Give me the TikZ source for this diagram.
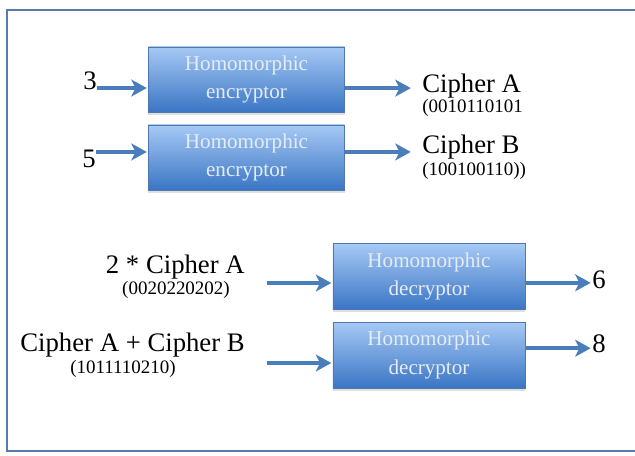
\documentclass[tikz,border=0pt]{standalone}
\usepackage{fontspec}
\setmainfont{Liberation Serif}
\usetikzlibrary{positioning,arrows.meta,shadows}
\definecolor{boxtop}{HTML}{A6C9F5}
\definecolor{boxbot}{HTML}{3A75C4}
\definecolor{flowblue}{HTML}{4A7EBB}
\definecolor{framebl}{HTML}{5A7BAA}
\definecolor{boxtext}{HTML}{E6ECF4}
\tikzset{
  hebox/.style={rectangle,draw=boxbot!70!gray,thin,top color=boxtop,bottom color=boxbot,
    minimum width=4.9cm,minimum height=1.625cm,align=center,text=boxtext,
    font=\fontsize{15}{20}\selectfont,
    drop shadow={opacity=0.25,shadow xshift=0pt,shadow yshift=-2pt}},
  bigtext/.style={inner sep=0pt,font=\fontsize{19}{22}\selectfont},
  bittext/.style={inner sep=0pt,font=\fontsize{13.5}{16}\selectfont},
  numtext/.style={inner sep=0pt,font=\fontsize{19}{20}\selectfont},
  every edge/.style={draw=flowblue,line width=3pt,-{Stealth[length=11pt,width=12pt,inset=3pt]},shorten >=1pt},
}
\begin{document}
\begin{tikzpicture}[x=0.025cm,y=-0.025cm]
\useasboundingbox (0,0) rectangle (635,455);

% frame
\draw[framebl,line width=1.5pt] (635,10) -- (7,10) -- (7,451) -- (635,451);

% encryptors
\node[hebox] (enc1) at (246.5,79.5) {Homomorphic\\encryptor};
\node[hebox] (enc2) at (246.5,157.5) {Homomorphic\\encryptor};

\node[numtext] (three) at (90,81) {3};
\node[numtext] (five) at (89,159) {5};

\node[bigtext,anchor=west] (ca) at (422,86) {Cipher A};
\node[bittext,anchor=west] (cabits) at (422,108) {(0010110101};
\node[bigtext,anchor=west] (cb) at (422,147) {Cipher B};
\node[bittext,anchor=west] (cbbits) at (422,171) {(100100110))};

\path
([yshift=-5pt]three.east) edge ([yshift=-5pt]three.east -| enc1.west)
([yshift=-1.5pt]five.north east) edge ([yshift=-1.5pt]five.north east -| enc2.west)
([yshift=-1.5pt]enc1.east |- ca.west) edge[shorten >=8pt] ([yshift=-1.5pt]ca.west)
([yshift=-3.5pt]enc2.east |- cb.west) edge[shorten >=8pt] ([yshift=-3.5pt]cb.west);

% decryptors
\node[hebox,minimum width=4.8cm,minimum height=1.65cm] (dec1) at (429,276.5) {Homomorphic\\decryptor};
\node[hebox,minimum width=4.8cm,minimum height=1.65cm] (dec2) at (429,355) {Homomorphic\\decryptor};

\node[bigtext,anchor=east] (mula) at (245,267) {2 * Cipher A};
\node[bittext] (mulabits) at (176,290) {(0020220202)};
\node[bigtext,anchor=east] (suma) at (245,345) {Cipher A + Cipher B};
\node[bittext] (sumabits) at (123,369) {(1011110210)};

\node[numtext] (six) at (599,280) {6};
\node[numtext] (eight) at (599,344) {8};

\coordinate (in1) at (267,283);
\coordinate (in2) at (267,363);

\path
(in1) edge (in1 -| dec1.west)
(in2) edge (in2 -| dec2.west)
([yshift=-2pt]dec1.east |- six.west) edge ([yshift=-2pt]six.west)
([yshift=-3pt]dec2.east |- eight.west) edge ([yshift=-3pt]eight.west);

\end{tikzpicture}
\end{document}
